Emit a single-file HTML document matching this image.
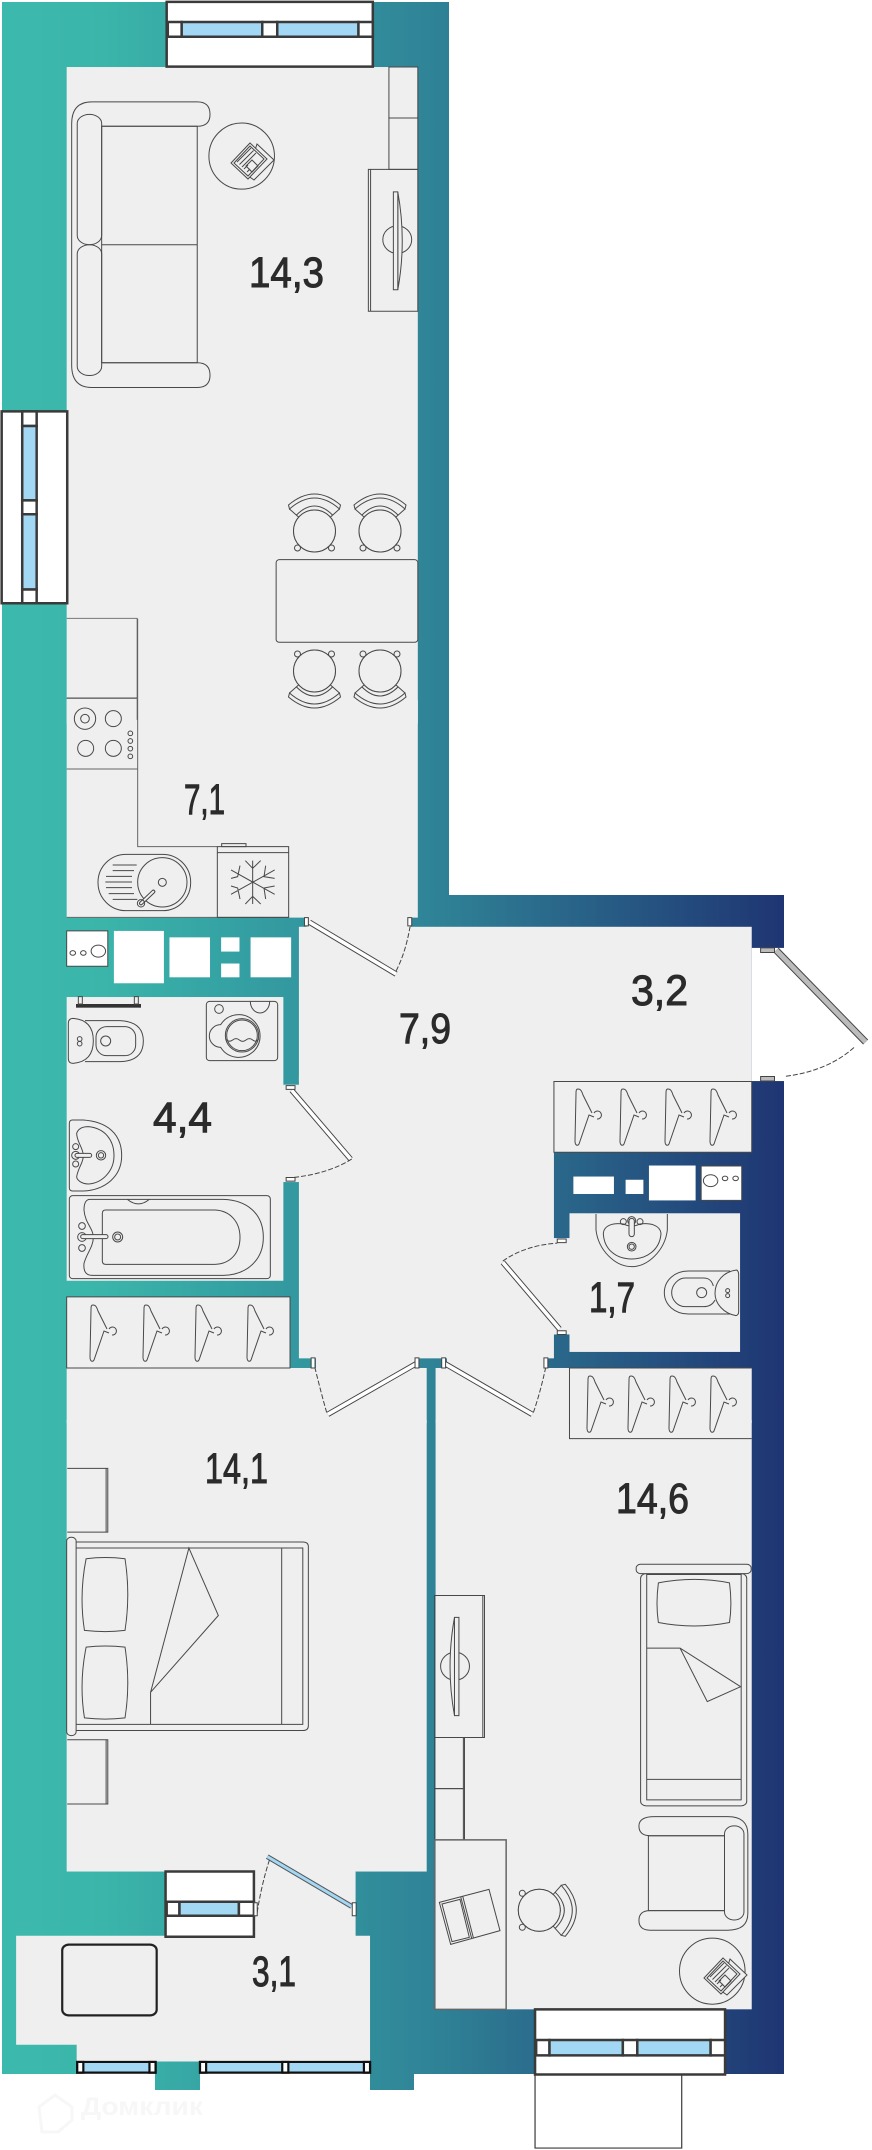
<!DOCTYPE html>
<html><head><meta charset="utf-8"><style>
html,body{margin:0;padding:0;background:#fff;width:872px;height:2150px;overflow:hidden}
svg{display:block}
svg *{vector-effect:non-scaling-stroke}
.f{fill:none;stroke:#484848;stroke-width:1}
.f1{fill:#efefef;stroke:#484848;stroke-width:1}
.w{fill:#fff;stroke:#3a3a3a;stroke-width:2.5}
.b{fill:#a3d8f5;stroke:#3a3a3a;stroke-width:2.5}
.r{fill:#efefef;stroke:none}
.s{fill:#fff;stroke:none}
.d{fill:none;stroke:#444;stroke-width:1;stroke-dasharray:5 2}
.p{fill:#fff;stroke:#444;stroke-width:1}
.t{font-family:"Liberation Sans",sans-serif;font-size:43px;fill:#2b2b2b;stroke:#2b2b2b;stroke-width:1}
</style></head><body>
<svg xmlns="http://www.w3.org/2000/svg" width="872" height="2150" viewBox="0 0 872 2150">
<defs>
<linearGradient id="wg" gradientUnits="userSpaceOnUse" x1="0" y1="0" x2="784" y2="0">
<stop offset="0" stop-color="#3cb9ad"/><stop offset=".13" stop-color="#3bb5aa"/><stop offset=".28" stop-color="#35a3a4"/><stop offset=".56" stop-color="#2f8296"/><stop offset="1" stop-color="#1f3573"/>
</linearGradient>
<g id="hg" class="f"><path class="f" d="M3 0C1 0 1 2 1 5L0 52C0 57 3 57 4 55L14 26L19 28M3 0C6 0 7 3 8 6L17 24"/><path class="f" d="M19 24a4 4 0 1 1 3 6"/></g>
<g id="ch">
<circle class="f" r="21" cy="0"/>
<path class="f1" d="M-26-26Q0-48 26-26L25-22Q0-44-25-22Z"/>
<path class="f" d="M-18-16Q0-34 18-16M-25-22L-16-14M25-22L16-14"/>
<circle class="f1" cx="-17" cy="17" r="3"/><circle class="f1" cx="17" cy="17" r="3"/>
<circle class="f" r="21" cy="0" style="fill:#efefef"/>
</g>
<g id="np">
<polygon class="f1" points="8,-17 25,-1 5,19 -2,14"/>
<polygon class="f1" points="1,-18 18,-2 -1,18 -18,2"/>
<polygon class="f" points="1,-15 15,-2 -1,15 -15,2"/>
<path class="f" d="M-12 1L2-13M-9.500 3.500L4.500-10.500M-7 6L7-8M-5 8L-1 4M-2 11L1 8"/>
<polygon class="f" points="3,-1 9,5 3,11 -3,5"/>
</g>
</defs>

<!-- walls -->
<path fill="url(#wg)" d="M2 2H449V895H784V948H752V1081H784V2074H414V2090H370V2061H200V2090H155V2061H77V2074H2Z"/>

<!-- rooms -->
<g transform="scale(.5556,.4591)">
<rect class="r" x="120" y="146" width="632" height="1430"/>
</g>
<g transform="translate(0,700) scale(.5556,.4591)">
<rect class="r" x="120" y="0" width="632" height="474"/>
<rect class="r" x="552" y="470" width="186" height="30"/>
<rect class="r" x="538" y="494" width="815" height="336"/>
<rect class="r" x="538" y="820" width="459" height="614"/>
<rect class="r" x="120" y="647" width="390" height="618"/>
<rect class="r" x="505" y="838" width="40" height="212"/>
<rect class="r" x="1025" y="1118" width="307" height="302"/>
<rect class="r" x="990" y="1172" width="40" height="210"/>
<rect class="r" x="120" y="1455" width="648" height="120"/>
<rect class="r" x="784" y="1455" width="569" height="120"/>
<rect class="r" x="120" y="1300" width="402" height="155"/>
<rect class="s" x="1353" y="540" width="60" height="290"/>
</g>
<rect class="r" x="316" y="1357" width="99" height="12"/>
<rect class="r" x="447" y="1357" width="97" height="12"/>
<g transform="translate(0,1420) scale(.5556,.4655)">
<rect class="r" x="120" y="0" width="648" height="970"/>
<rect class="r" x="784" y="0" width="569" height="1266"/>
<path class="r" d="M457 965H640V1108H666V1378H138V1342H29V1108H298V965Z"/>
</g>

<!-- top + left window -->
<g transform="scale(.5556,.4591)">
<rect class="w" x="300" y="4" width="371" height="141"/>
<rect class="w" x="302" y="48" width="25" height="32"/><rect class="w" x="472" y="48" width="27" height="32"/><rect class="w" x="645" y="48" width="26" height="32"/>
<rect class="b" x="327" y="48" width="145" height="32"/><rect class="b" x="499" y="48" width="146" height="32"/>
<rect class="w" x="3" y="896" width="118" height="418"/>
<rect class="w" x="40" y="896" width="26" height="32"/><rect class="b" x="40" y="928" width="26" height="162"/>
<rect class="w" x="40" y="1090" width="26" height="30"/><rect class="b" x="40" y="1120" width="26" height="164"/>
<rect class="w" x="40" y="1284" width="26" height="30"/>

<!-- sofa -->
<path class="f" d="M165 222H355Q378 222 378 249Q378 275 355 275H183M165 222Q129 222 129 270V795Q129 844 165 844H355Q378 844 378 817Q378 790 355 790H183"/>
<rect class="f" x="183" y="275" width="172" height="515"/><path class="f" d="M183 533H355"/>
<rect class="f" x="139" y="249" width="44" height="284" rx="22" ry="20"/><rect class="f" x="139" y="533" width="44" height="285" rx="22" ry="20"/>
<ellipse class="f" cx="435" cy="340" rx="59" ry="72"/>
<!-- cabinets -->
<rect class="f" x="700" y="146" width="52" height="111"/><rect class="f" x="700" y="257" width="52" height="112"/>
<rect class="f" x="663" y="369" width="89" height="309"/><path class="f" d="M667 369V678"/>
<ellipse class="f" cx="715" cy="522" rx="26" ry="30"/>
<path class="f1" d="M716 418Q732 525 716 631Z"/><rect class="f1" x="708" y="418" width="8" height="213"/>
<rect class="f" x="497" y="1219" width="255" height="180" rx="6"/>
<path class="f" style="stroke:#777" d="M120 1347H247M120 1520H247"/><path class="f" d="M247 1347V1568"/>
</g>
<use href="#np" x="249" y="161"/>
<use href="#ch" transform="translate(314.500,531)"/><use href="#ch" transform="translate(380,531)"/>
<use href="#ch" transform="translate(314.500,671) rotate(180)"/><use href="#ch" transform="translate(380,671) rotate(180)"/>

<!-- kitchen -->
<g transform="translate(60,610) scale(.33333)">
<path class="f" style="stroke:#666" d="M233 26V710H472M20 922H686M20 265H233M20 477H233"/>
<circle class="f" cx="75" cy="326" r="32"/><circle class="f" cx="75" cy="326" r="13"/><circle class="f" cx="160" cy="326" r="24"/><circle class="f" cx="77" cy="415" r="24"/><circle class="f" cx="160" cy="415" r="24"/>
<circle class="f" cx="211" cy="370" r="7"/><circle class="f" cx="211" cy="393" r="7"/><circle class="f" cx="211" cy="416" r="7"/><circle class="f" cx="211" cy="439" r="7"/>
<rect class="f" x="114" y="733" width="278" height="169" rx="84"/>
<circle class="f" cx="307" cy="817" r="74"/><circle class="f" cx="307" cy="817" r="12"/>
<path class="f" d="M158 765H230M158 782H222M138 799H216M136 816H216M138 833H216M146 851H222M158 868H232"/>
<path style="stroke:#444;stroke-width:4;fill:none;stroke-linecap:round" d="M243 880L280 845"/><path style="stroke:#efefef;stroke-width:2;fill:none;stroke-linecap:round" d="M243 880L280 845"/>
<circle class="f" cx="243" cy="880" r="11"/>
<rect class="f" x="472" y="710" width="214" height="212"/><path class="f" d="M472 728H686"/><rect class="f" x="485" y="701" width="73" height="9"/>
<path class="f" d="M578 752V882M513 780L644 853M513 853L644 780M556 752L578 775L602 752M556 882L578 859L602 882M540 767L533 800L513 805M617 767L612 800L644 805M540 867L533 834L513 828M617 867L612 834L644 828"/>
</g>

<!-- bath 1 -->
<g transform="translate(60,990) scale(.33333)">
<rect x="48" y="42" width="195" height="11" fill="#333"/><rect class="f" x="55" y="20" width="12" height="22"/><rect class="f" x="223" y="20" width="12" height="22"/>
<path class="f" d="M25 100Q25 85 40 85Q100 90 100 152Q100 215 40 220Q25 220 25 205Z"/>
<path class="f" d="M75 92H180Q250 95 250 153Q250 213 180 215H75"/>
<rect class="f" x="108" y="110" width="119" height="87" rx="32"/><circle class="f" cx="137" cy="153" r="15"/><circle class="f" cx="59" cy="147" r="7"/><circle class="f" cx="59" cy="161" r="7"/>
<rect class="f" x="439" y="34" width="214" height="178" rx="10"/><circle class="f" cx="477" cy="57" r="13"/>
<path class="f" d="M571 34A29 35 0 0 0 629 34"/>
<path class="f" d="M482 104A64 64 0 1 1 482 172A32 32 0 0 1 482 104Z"/>
<circle class="f" cx="546" cy="136" r="50"/><circle class="f" cx="546" cy="136" r="46"/>
<path class="f" d="M498 148Q508 158 518 150T538 150T558 150T578 150T596 148"/>
<path class="f" d="M28 400Q28 390 38 390H70C140 395 185 430 185 497C185 560 135 600 70 603H38Q28 603 28 593Z"/>
<path class="f" d="M50 430C55 415 70 410 85 410C135 415 162 450 162 497C162 545 125 580 85 582C65 582 50 570 50 560C55 530 70 520 70 497C70 475 50 455 50 430Z"/>
<circle class="f" cx="47" cy="470" r="9"/><circle class="f" cx="47" cy="522" r="9"/><circle class="f" cx="47" cy="496" r="12"/>
<rect class="f1" x="45" y="490" width="50" height="12" rx="6"/><circle class="f" cx="123" cy="496" r="14"/><circle class="f" cx="123" cy="496" r="8"/>
<rect class="f" x="28" y="617" width="603" height="249" rx="10"/>
<path class="f" d="M90 628H490C560 630 610 670 610 742C610 810 560 855 490 856H95C75 855 70 840 72 820C80 790 100 770 100 742C100 715 75 700 72 660C72 640 78 628 90 628Z"/>
<path class="f" d="M127 670Q127 660 137 660H465C510 662 540 695 540 742C540 790 510 822 465 823H137Q127 823 127 813Z"/>
<path class="f" d="M202 628Q235 655 268 628"/>
<circle class="f" cx="66" cy="708" r="10"/><circle class="f" cx="66" cy="774" r="10"/><circle class="f" cx="66" cy="741" r="13"/>
<rect class="f1" x="62" y="734" width="82" height="12" rx="6"/><circle class="f" cx="173" cy="741" r="15"/><circle class="f" cx="173" cy="741" r="9"/>
</g>

<!-- bath 2 fixtures -->
<g transform="translate(580,1200) scale(.33333)">
<path class="f" d="M48 42V90C55 150 105 200 155 200C205 200 255 150 262 90V42"/>
<path class="f" d="M70 100C72 75 100 68 130 72Q155 84 180 72C210 68 240 75 243 100C240 150 200 177 155 177C110 177 72 150 70 100Z"/>
<circle class="f" cx="130" cy="65" r="9"/><circle class="f" cx="180" cy="65" r="9"/><circle class="f" cx="155" cy="62" r="12"/>
<rect class="f1" x="147" y="55" width="16" height="55" rx="8"/><circle class="f" cx="155" cy="140" r="13"/><circle class="f" cx="155" cy="140" r="8"/>
<path class="f" d="M450 213H325C285 213 253 240 253 278C253 315 285 342 325 342H450"/>
<path class="f1" d="M470 210Q476 213 476 225V335Q476 345 468 347C430 340 405 310 405 280C405 245 430 215 470 210Z"/>
<path class="f" d="M400 258C395 240 385 234 370 234H315C295 234 275 255 275 278C275 302 295 320 315 320H370C390 320 400 310 405 300"/>
<circle class="f" cx="365" cy="278" r="15"/><circle class="f" cx="443" cy="272" r="6"/><circle class="f" cx="443" cy="287" r="6"/>
</g>

<!-- middle group -->
<g transform="translate(0,700) scale(.5556,.4591)">
<!-- shafts -->
<rect class="f" style="fill:#fff" x="120" y="503" width="74" height="77"/>
<circle class="f" cx="177" cy="547" r="13"/><circle class="f" cx="150" cy="551" r="5"/><circle class="f" cx="131" cy="551" r="5"/>
<rect class="s" x="205" y="503" width="90" height="114"/><rect class="s" x="305" y="517" width="73" height="87"/><rect class="s" x="398" y="517" width="33" height="31"/><rect class="s" x="398" y="574" width="33" height="30"/><rect class="s" x="451" y="517" width="73" height="87"/>
<rect class="s" x="1032" y="1038" width="73" height="38"/><rect class="s" x="1126" y="1045" width="32" height="31"/><rect class="s" x="1168" y="1014" width="84" height="76"/>
<rect class="f" style="fill:#fff" x="1262" y="1015" width="73" height="75"/>
<circle class="f" cx="1279" cy="1047" r="13"/><circle class="f" cx="1305" cy="1042" r="5"/><circle class="f" cx="1324" cy="1042" r="5"/>
<!-- closets -->
<rect class="f1" x="997" y="831" width="356" height="154"/>
<rect class="f1" x="120" y="1300" width="402" height="155"/>
<path class="f" d="M1025 1455H1353M1025 1455V1580"/>
<!-- doors -->
<path style="stroke:#444;stroke-width:5.500;fill:none" d="M557 484L713 597M525 850L631 1000M905 1225L1007 1370M750 1445L590 1556M800 1445L958 1556"/>
<path style="stroke:#fff;stroke-width:3.600;fill:none" d="M557 484L713 597M525 850L631 1000M905 1225L1007 1370M750 1445L590 1556M800 1445L958 1556"/>
<path class="d" d="M713 590Q730 550 738 494M633 1000Q590 1032 528 1040M905 1222Q945 1188 1003 1183M588 1552Q578 1510 567 1455M960 1552Q972 1510 982 1455"/>
<rect class="p" x="548" y="474" width="7" height="18"/><rect class="p" x="734" y="474" width="7" height="18"/>
<rect class="p" x="515" y="840" width="16" height="8"/><rect class="p" x="515" y="1040" width="16" height="8"/>
<rect class="p" x="1003" y="1174" width="16" height="8"/><rect class="p" x="1003" y="1374" width="16" height="8"/>
<rect class="p" x="560" y="1433" width="7" height="22"/><rect class="p" x="747" y="1433" width="7" height="22"/>
<rect class="p" x="795" y="1433" width="7" height="22"/><rect class="p" x="979" y="1433" width="7" height="22"/>
<!-- balcony door -->
<path style="stroke:#444;stroke-width:7;fill:none" d="M1397 545L1558 745"/><path style="stroke:#bcbcbc;stroke-width:5;fill:none" d="M1397 545L1558 745"/>
<path class="d" d="M1537 757Q1490 808 1412 820"/>
<rect x="1369" y="540" width="25" height="10" fill="#bcbcbc" stroke="#444"/><rect x="1369" y="820" width="25" height="10" fill="#bcbcbc" stroke="#444"/>
</g>

<g transform="translate(0,1420) scale(.5556,.4655)">
<path class="f" d="M1025 0V40H1353"/>
<!-- bedroom1 -->
<path class="f" d="M121 104H194V241H121M121 687H194V825H121"/><path class="f" d="M191 104V241M191 687V825"/>
<path class="f" d="M137 262H545Q555 262 555 272V657Q555 667 545 667H137"/>
<path class="f" d="M137 275H545V654H137M507 275V654"/>
<rect class="f1" x="120" y="252" width="17" height="426" rx="8"/>
<path class="f" d="M155 298Q190 293 225 298Q235 375 225 452Q190 457 152 452Q142 375 155 298Z"/>
<path class="f" d="M155 488Q190 483 225 488Q235 565 225 640Q190 645 152 640Q142 565 155 488Z"/>
<path class="f" d="M340 275L393 420L271 585ZM271 585V654"/>
<!-- bedroom 2 -->
<rect class="f" x="782" y="377" width="90" height="305"/><path class="f" d="M869 377V682"/>
<ellipse class="f" cx="819" cy="529" rx="26" ry="30"/>
<path class="f1" d="M818 424Q802 530 818 635Z"/><rect class="f1" x="818" y="424" width="8" height="211"/>
<rect class="f" x="782" y="682" width="52" height="110"/><rect class="f" x="782" y="792" width="52" height="110"/><path class="f" d="M836 682V902"/>
<rect class="f" style="stroke:#666;stroke-width:1.500" x="782" y="902" width="129" height="364"/>
<rect class="f" x="1153" y="330" width="191" height="499" rx="10"/>
<rect class="f" x="1164" y="332" width="170" height="484"/><path class="f" d="M1164 772H1334"/>
<rect class="f1" x="1145" y="310" width="207" height="20" rx="8"/>
<path class="f" d="M1185 350Q1250 335 1313 350Q1318 395 1313 435Q1250 450 1185 435Q1180 395 1185 350Z"/>
<path class="f" d="M1164 490H1224L1333 573L1273 605L1224 490"/>
<path class="f" d="M1178 852H1310Q1346 852 1346 890V1060Q1346 1096 1310 1096H1170Q1150 1096 1150 1075Q1150 1054 1170 1054H1304M1178 852Q1150 852 1150 872Q1150 893 1170 893H1304"/>
<rect class="f" x="1167" y="893" width="137" height="161"/><rect class="f" x="1304" y="872" width="35" height="202" rx="17"/>
<ellipse class="f" cx="1282" cy="1184" rx="59" ry="71"/>
<!-- balcony -->
<rect class="w" x="298" y="970" width="159" height="140"/>
<rect class="w" x="300" y="1035" width="23" height="30"/><rect class="b" x="323" y="1035" width="107" height="30"/><rect class="w" x="430" y="1035" width="27" height="30"/>
<path style="stroke:#555;stroke-width:5;fill:none" d="M481 938L633 1045"/><path style="stroke:#a3d8f5;stroke-width:3;fill:none" d="M481 938L633 1045"/>
<path class="d" d="M485 945Q470 1000 462 1065"/>
<rect class="p" x="634" y="1037" width="7" height="28"/><rect class="p" x="457" y="1037" width="6" height="28"/>
<rect x="112" y="1127" width="170" height="152" rx="12" fill="none" stroke="#222" stroke-width="2.2"/>
<!-- bottom right window -->
<rect class="w" x="963" y="1406" width="264" height="158" style="stroke-width:1.2"/>
<rect class="w" x="963" y="1266" width="342" height="140"/>
<rect class="w" x="965" y="1332" width="24" height="33"/><rect class="b" x="989" y="1332" width="132" height="33"/><rect class="w" x="1121" y="1332" width="26" height="33"/><rect class="b" x="1147" y="1332" width="132" height="33"/><rect class="w" x="1279" y="1332" width="26" height="33"/>
<!-- bottom strips -->
<g stroke="#111" stroke-width="2.2">
<rect x="139" y="1379" width="141" height="23" fill="#a3d8f5"/><rect x="139" y="1379" width="11" height="23" fill="#fff"/><rect x="269" y="1379" width="11" height="23" fill="#fff"/>
<rect x="360" y="1379" width="306" height="23" fill="#a3d8f5"/><rect x="360" y="1379" width="11" height="23" fill="#fff"/><rect x="508" y="1379" width="11" height="23" fill="#fff"/><rect x="655" y="1379" width="11" height="23" fill="#fff"/>
</g>
</g>
<!-- laptop -->
<g transform="translate(430,1850) scale(.33333)">
<path class="f" d="M28 157L177 118L210 242L62 283ZM92 140L125 265M98 138L130 263M36 162L90 148L118 262L66 275Z"/>
</g>
<use href="#np" x="722" y="1976"/>
<use href="#ch" transform="translate(539.300,1910.300) rotate(90)"/>

<!-- hangers -->
<use href="#hg" x="575" y="1089"/><use href="#hg" x="620" y="1089"/><use href="#hg" x="665" y="1089"/><use href="#hg" x="710" y="1089"/>
<use href="#hg" x="90" y="1305"/><use href="#hg" x="143" y="1305"/><use href="#hg" x="195" y="1305"/><use href="#hg" x="247" y="1305"/>
<use href="#hg" x="587" y="1376"/><use href="#hg" x="628" y="1376"/><use href="#hg" x="669" y="1376"/><use href="#hg" x="710" y="1376"/>

<!-- labels -->
<text class="t" x="249" y="287" textLength="75" lengthAdjust="spacingAndGlyphs">14,3</text>
<text class="t" x="184" y="814" textLength="41" lengthAdjust="spacingAndGlyphs">7,1</text>
<text class="t" x="399" y="1043" textLength="52" lengthAdjust="spacingAndGlyphs">7,9</text>
<text class="t" x="631" y="1005" textLength="57" lengthAdjust="spacingAndGlyphs">3,2</text>
<text class="t" x="153" y="1132" textLength="59" lengthAdjust="spacingAndGlyphs">4,4</text>
<text class="t" x="589" y="1312" textLength="46" lengthAdjust="spacingAndGlyphs">1,7</text>
<text class="t" x="205" y="1483" textLength="63" lengthAdjust="spacingAndGlyphs">14,1</text>
<text class="t" x="616" y="1513" textLength="73" lengthAdjust="spacingAndGlyphs">14,6</text>
<text class="t" x="252" y="1986" textLength="44" lengthAdjust="spacingAndGlyphs">3,1</text>

<!-- watermark -->
<path d="M39 2107L55 2095L72 2107V2120L58 2132H42Z" fill="none" stroke="#f7f7f7" stroke-width="3"/>
<text x="81" y="2115" font-family="'Liberation Sans',sans-serif" font-weight="bold" font-size="25" fill="#f7f7f7" textLength="122" lengthAdjust="spacingAndGlyphs">Домклик</text>
</svg>
</body></html>
